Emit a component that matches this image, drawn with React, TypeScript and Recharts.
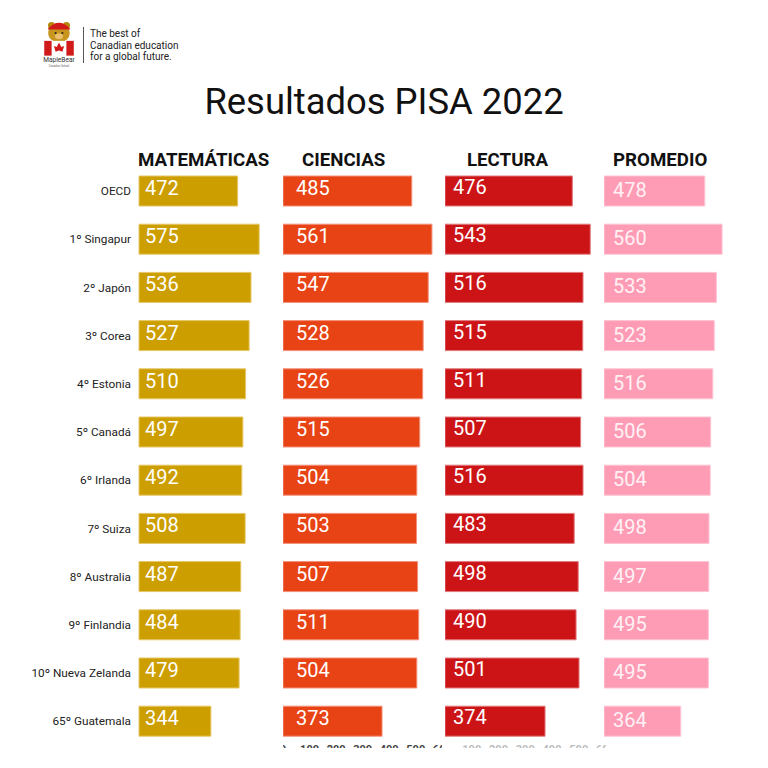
import { Bar, BarChart, LabelList, XAxis, YAxis } from "recharts";

const paises = [
  "OECD",
  "1º Singapur",
  "2º Japón",
  "3º Corea",
  "4º Estonia",
  "5º Canadá",
  "6º Irlanda",
  "7º Suiza",
  "8º Australia",
  "9º Finlandia",
  "10º Nueva Zelanda",
  "65º Guatemala",
];
const matematicas = [472, 575, 536, 527, 510, 497, 492, 508, 487, 484, 479, 344];
const ciencias = [485, 561, 547, 528, 526, 515, 504, 503, 507, 511, 504, 373];
const lectura = [476, 543, 516, 515, 511, 507, 516, 483, 498, 490, 501, 374];
const promedio = [478, 560, 533, 523, 516, 506, 504, 498, 497, 495, 495, 364];
const ticksCiencias = [0, 100, 200, 300, 400, 500, 600];
const ticksLectura = [100, 200, 300, 400, 500, 600];

const rows = paises.map((p, i) => ({
  pais: p,
  mat: matematicas[i],
  cie: ciencias[i],
  lec: lectura[i],
  pro: promedio[i],
}));

const TOP = 166.9;
const PLOT_H = 578.4;

type PanelProps = {
  dataKey: string;
  plotLeft: number;
  plotWidth: number;
  fill: string;
  stroke: string;
  labelOffset: number;
  labelDy: number;
  labelFill: string;
  showCats?: boolean;
  ticks?: number[];
  tickColor?: string;
};

function Panel(p: PanelProps) {
  const yw = p.showCats ? p.plotLeft : 0;
  const left = p.showCats ? 0 : p.plotLeft;
  const axisH = p.ticks ? 20 : 0;
  return (
    <div style={{ position: "absolute", left, top: TOP }}>
      <BarChart
        width={yw + p.plotWidth}
        height={PLOT_H + axisH}
        data={rows}
        layout="vertical"
        margin={{ top: 0, right: 0, bottom: 0, left: 0 }}
        barSize={30}
      >
        <XAxis
          type="number"
          domain={[0, 600]}
          ticks={p.ticks ?? [0]}
          hide={!p.ticks}
          height={axisH}
          axisLine={false}
          tickLine={false}
          tickSize={0}
          tickMargin={0}
          interval={0}
          tick={{ fontSize: 11, fill: p.tickColor ?? "#444", fontWeight: 700 }}
        />
        <YAxis
          type="category"
          dataKey="pais"
          hide={!p.showCats}
          width={yw}
          axisLine={false}
          tickLine={false}
          tick={{ fontSize: 11.8, fill: "#222" }}
          interval={0}
        />
        <Bar dataKey={p.dataKey} fill={p.fill} stroke={p.stroke} strokeWidth={1} isAnimationActive={false}>
          <LabelList
            dataKey={p.dataKey}
            position="insideLeft"
            offset={p.labelOffset}
            dy={p.labelDy}
            fill={p.labelFill}
            fontSize={20}
          />
        </Bar>
      </BarChart>
    </div>
  );
}

function Logo() {
  return (
    <svg width={50} height={50} style={{ position: "absolute", left: 34, top: 17 }} viewBox="0 0 44 44">
      <circle cx={15.5} cy={7.5} r={3.2} fill="#b8860b" />
      <circle cx={28.5} cy={7.5} r={3.2} fill="#b8860b" />
      <ellipse cx={22} cy={14} rx={9.5} ry={8.5} fill="#c8961e" />
      <path d="M12.5 10 Q22 0 31.5 10 L31.5 11 L12.5 11 Z" fill="#d11a1a" />
      <ellipse cx={22} cy={17} rx={3.5} ry={2.5} fill="#e8c070" />
      <circle cx={19} cy={14} r={0.9} fill="#222" />
      <circle cx={25} cy={14} r={0.9} fill="#222" />
      <rect x={9} y={21} width={26} height={13} fill="#fff" />
      <rect x={9} y={21} width={6.5} height={13} fill="#d11a1a" />
      <rect x={28.5} y={21} width={6.5} height={13} fill="#d11a1a" />
      <path d="M22 22.5 L24 26.5 L26.5 25.5 L25 30.5 L22 29.5 L19 30.5 L17.5 25.5 L20 26.5 Z" fill="#d11a1a" />
      <text x={22} y={39.5} fontSize={5.8} textAnchor="middle" fill="#333" fontFamily="Roboto">
        MapleBear
      </text>
      <text x={22} y={43.8} fontSize={2.4} textAnchor="middle" fill="#666" fontFamily="Roboto">
        Canadian School
      </text>
    </svg>
  );
}

const header: React.CSSProperties = {
  position: "absolute",
  top: 149,
  fontSize: 18.7,
  fontWeight: 700,
  color: "#111",
  whiteSpace: "nowrap",
};

export default function App() {
  return (
    <div
      style={{
        position: "absolute",
        left: 0,
        top: 0,
        width: 768,
        height: 768,
        background: "#fff",
        fontFamily: "Roboto, sans-serif",
        overflow: "hidden",
      }}
    >
      <Logo />
      <div style={{ position: "absolute", left: 83, top: 27, width: 1, height: 36, background: "#555" }} />
      <div style={{ position: "absolute", left: 90, top: 28, fontSize: 10, lineHeight: "11.5px", color: "#222" }}>
        The best of
        <br />
        Canadian education
        <br />
        for a global future.
      </div>
      <div
        style={{
          position: "absolute",
          left: 0,
          width: 768,
          top: 80,
          textAlign: "center",
          fontSize: 36.4,
          color: "#111",
        }}
      >
        Resultados PISA 2022
      </div>
      <div style={{ ...header, left: 138 }}>MATEMÁTICAS</div>
      <div style={{ ...header, left: 302 }}>CIENCIAS</div>
      <div style={{ ...header, left: 467 }}>LECTURA</div>
      <div style={{ ...header, left: 613 }}>PROMEDIO</div>

      <div style={{ position: "absolute", left: 0, top: 0, width: 768, height: 748, overflow: "hidden" }}>
        <Panel
          dataKey="mat"
          plotLeft={139}
          plotWidth={125.4}
          fill="#CC9E00"
          stroke="#E6C766"
          labelOffset={6}
          labelDy={-3}
          labelFill="#fff"
          showCats
        />
        <Panel
          dataKey="cie"
          plotLeft={283}
          plotWidth={159.3}
          fill="#E84314"
          stroke="#F3907A"
          labelOffset={13}
          labelDy={-3}
          labelFill="#fff"
          ticks={ticksCiencias}
          tickColor="#444"
        />
        <Panel
          dataKey="lec"
          plotLeft={445}
          plotWidth={160.5}
          fill="#CC1417"
          stroke="#E07A7C"
          labelOffset={8}
          labelDy={-4}
          labelFill="#fff"
          ticks={ticksLectura}
          tickColor="#bbb"
        />
        <Panel
          dataKey="pro"
          plotLeft={604}
          plotWidth={126.5}
          fill="#FF9CB5"
          stroke="#FFC4D3"
          labelOffset={9}
          labelDy={-1}
          labelFill="#FFF2F5"
        />
      </div>
    </div>
  );
}
